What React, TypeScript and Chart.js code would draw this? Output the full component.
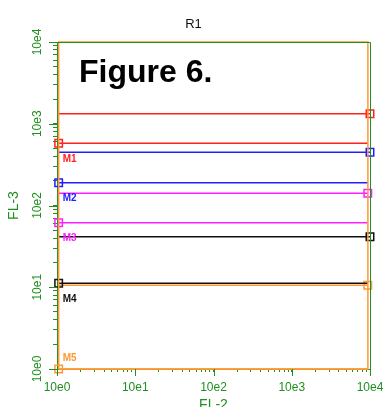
import { useEffect, useRef } from 'react';
import { Chart, registerables } from 'chart.js';

Chart.register(...registerables);

const FONT = "'Liberation Sans', Arial, sans-serif";
const AXIS_GREEN = '#1f8f1f';

const chartTitle = 'R1';
const panelLabel = 'Figure 6.';
const xAxisTitle = 'FL-2';
const yAxisTitle = 'FL-3';

// Log decades and their labels
const decadeValues = [1, 10, 100, 1000, 10000];
const decadeLabels = ['10e0', '10e1', '10e2', '10e3', '10e4'];
const minorSteps = [2, 3, 4, 5, 6, 7, 8, 9];

// Markers on FL-3: lower and upper bounds
const markerNames = ['M1', 'M2', 'M3', 'M4', 'M5'];
const markerColors = ['#ff2020', '#2020ff', '#ff20ff', '#101010', '#ff9933'];
const markerLow = [577, 190, 61.6, 11.2, 1];
const markerHigh = [1327, 447, 141, 41.5, 10.6];
const markerHighHandleX = [10000, 10000, 9370, 10000, 9370];
const markerLeftX = 1.05;
const markerRightX = 9400;

// R1 region outline
const regionColor = '#ff9933';
const regionX = [1.05, 1.05, 9400, 9400, 1.05];
const regionY = [1, 10000, 10000, 1, 1];

const HANDLE_R = 5.3;

function buildLogTicks() {
  const ticks: { value: number; major: boolean }[] = [];
  decadeValues.slice(0, -1).forEach((d) => {
    ticks.push({ value: d, major: true });
    minorSteps.forEach((m) => ticks.push({ value: d * m, major: false }));
  });
  ticks.push({ value: decadeValues[decadeValues.length - 1], major: true });
  return ticks;
}

function decadeLabel(value: number | string) {
  const i = decadeValues.indexOf(Number(value));
  return i >= 0 ? decadeLabels[i] : '';
}

const overlayPlugin = {
  id: 'overlay',
  afterDatasetsDraw(chart: any) {
    const { ctx, chartArea: a, scales } = chart;
    const xs = scales.x;
    const ys = scales.y;
    ctx.save();

    // frame top and right edges, plus long ticks at each decade
    ctx.strokeStyle = AXIS_GREEN;
    ctx.lineWidth = 1;
    ctx.beginPath();
    const top = Math.round(a.top) + 0.5;
    const right = Math.round(a.right) + 0.5;
    ctx.moveTo(a.left, top);
    ctx.lineTo(right, top);
    ctx.lineTo(right, a.bottom);
    decadeValues.forEach((v) => {
      const py = Math.round(ys.getPixelForValue(v)) + 0.5;
      ctx.moveTo(a.left - 8, py);
      ctx.lineTo(a.left, py);
      const px = Math.round(xs.getPixelForValue(v)) + 0.5;
      ctx.moveTo(px, a.bottom);
      ctx.lineTo(px, a.bottom + 7);
    });
    ctx.stroke();

    // marker names next to the lower-bound handles
    ctx.font = `bold 10px ${FONT}`;
    ctx.textAlign = 'left';
    ctx.textBaseline = 'middle';
    markerNames.forEach((name, i) => {
      const lx = xs.getPixelForValue(markerLeftX) + 4;
      const ly = ys.getPixelForValue(markerLow[i]);
      const atFloor = markerLow[i] <= ys.min;
      ctx.fillStyle = markerColors[i];
      ctx.fillText(name, lx, atFloor ? ly - 11 : ly + 16);
    });

    // panel label
    ctx.font = `bold 32px ${FONT}`;
    ctx.textBaseline = 'alphabetic';
    ctx.fillStyle = '#000000';
    ctx.fillText(panelLabel, 79, 82);

    ctx.restore();
  },
};

export default function App() {
  const canvasRef = useRef<HTMLCanvasElement | null>(null);

  useEffect(() => {
    const canvas = canvasRef.current;
    if (!canvas) return;

    const datasets: any[] = [
      {
        label: 'R1',
        data: regionX.map((x, i) => ({ x, y: regionY[i] })),
        showLine: true,
        borderColor: regionColor,
        borderWidth: 1.5,
        pointRadius: 0,
        clip: false,
      },
    ];
    markerNames.forEach((name, i) => {
      datasets.push({
        label: `${name} low`,
        data: [
          { x: markerLeftX, y: markerLow[i] },
          { x: markerRightX, y: markerLow[i] },
        ],
        showLine: true,
        borderColor: markerColors[i],
        borderWidth: 1.5,
        pointStyle: 'rect',
        pointRadius: [HANDLE_R, 0],
        pointBorderColor: markerColors[i],
        pointBackgroundColor: 'rgba(0,0,0,0)',
        pointBorderWidth: 1.5,
        clip: false,
      });
      datasets.push({
        label: `${name} high`,
        data: [
          { x: markerLeftX, y: markerHigh[i] },
          { x: markerHighHandleX[i], y: markerHigh[i] },
        ],
        showLine: true,
        borderColor: markerColors[i],
        borderWidth: 1.5,
        pointStyle: 'rect',
        pointRadius: [0, HANDLE_R],
        pointBorderColor: markerColors[i],
        pointBackgroundColor: 'rgba(0,0,0,0)',
        pointBorderWidth: 1.5,
        clip: false,
      });
    });

    const tickFont = { family: FONT, size: 12, weight: 'normal' as const };
    const titleFont = { family: FONT, size: 14, weight: 'normal' as const };

    const chart = new Chart(canvas, {
      type: 'scatter',
      data: { datasets },
      plugins: [overlayPlugin],
      options: {
        animation: false,
        responsive: false,
        devicePixelRatio: 1,
        events: [],
        layout: { padding: 0 },
        plugins: {
          legend: { display: false },
          tooltip: { enabled: false },
          title: {
            display: true,
            text: chartTitle,
            color: '#111111',
            font: { family: FONT, size: 13, weight: 'normal' },
            padding: { top: 17, bottom: 9.4 },
          },
        },
        scales: {
          x: {
            type: 'logarithmic',
            position: 'bottom',
            min: 1,
            max: 10000,
            afterBuildTicks: (s: any) => {
              s.ticks = buildLogTicks();
            },
            afterFit: (s: any) => {
              s.height = 38;
              s.paddingLeft = 0;
              s.paddingRight = 17;
            },
            border: { display: true, color: AXIS_GREEN, width: 1 },
            grid: {
              display: true,
              drawOnChartArea: false,
              drawTicks: true,
              tickLength: 3,
              color: AXIS_GREEN,
              lineWidth: 1,
            },
            ticks: {
              autoSkip: false,
              minRotation: 0,
              maxRotation: 0,
              padding: 8,
              color: AXIS_GREEN,
              font: tickFont,
              callback: decadeLabel,
              major: { enabled: false },
            },
            title: {
              display: true,
              text: xAxisTitle,
              color: AXIS_GREEN,
              font: titleFont,
              padding: { top: 0, bottom: -7 },
            },
          },
          y: {
            type: 'logarithmic',
            position: 'left',
            min: 1,
            max: 10000,
            afterBuildTicks: (s: any) => {
              s.ticks = buildLogTicks();
            },
            afterFit: (s: any) => {
              s.width = 57;
              s.paddingTop = 0;
              s.paddingBottom = 0;
            },
            border: { display: true, color: AXIS_GREEN, width: 1 },
            grid: {
              display: true,
              drawOnChartArea: false,
              drawTicks: true,
              tickLength: 4,
              color: AXIS_GREEN,
              lineWidth: 1,
            },
            ticks: {
              autoSkip: false,
              minRotation: 90,
              maxRotation: 90,
              crossAlign: 'center',
              padding: 2,
              color: AXIS_GREEN,
              font: tickFont,
              callback: decadeLabel,
              major: { enabled: false },
            },
            title: {
              display: true,
              text: yAxisTitle,
              color: AXIS_GREEN,
              font: titleFont,
              padding: { top: 6, bottom: 0 },
            },
          },
        },
      } as any,
    });

    return () => chart.destroy();
  }, []);

  return (
    <div style={{ position: 'fixed', left: 0, top: 0, width: 387, height: 407, background: '#ffffff' }}>
      <canvas ref={canvasRef} width={387} height={407} style={{ display: 'block' }} />
    </div>
  );
}
